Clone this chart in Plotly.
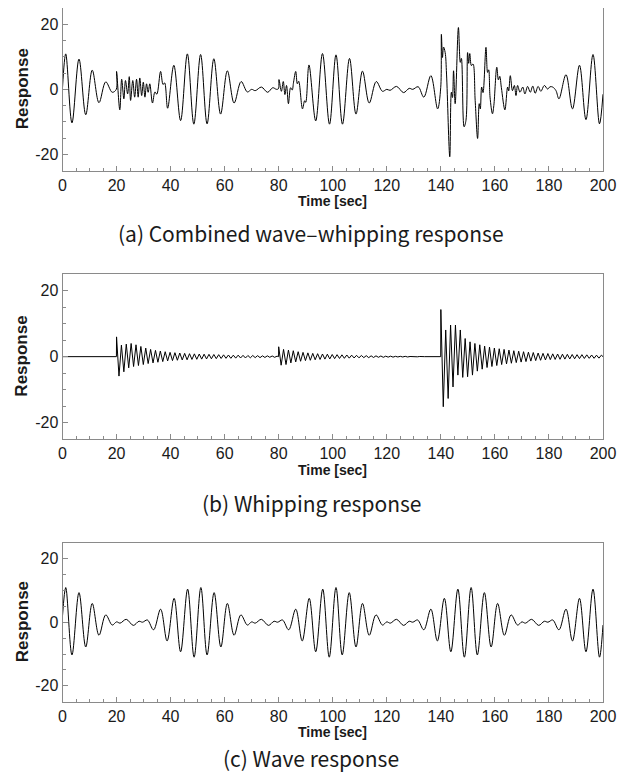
import plotly.graph_objects as go

W, H = 626, 782          # browser window
OFF = 8                  # default page margin of the html body
FW, FH = W - OFF, H - OFF

# ---------------- data ----------------
# (c) Wave response: extrema (time [s], value)
wave_t = [0.0, 1.2, 3.5, 6.1, 8.6, 11.0, 13.5, 16.0, 18.4, 20.0, 21.3, 23.6, 26.2, 28.3, 29.6, 31.4, 33.7, 36.3, 38.7, 41.3, 43.7, 46.3, 48.7,
          51.2, 53.5, 56.1, 58.6, 61.0, 63.5, 66.0, 68.4, 70.0, 71.3, 73.6, 76.2, 78.3, 79.6, 81.4, 83.7, 86.3, 88.7, 91.3, 93.7, 96.3, 98.7,
          101.2, 103.5, 106.1, 108.6, 111.0, 113.5, 116.0, 118.4, 120.0, 121.3, 123.6, 126.2, 128.3, 129.6, 131.4, 133.7, 136.3, 138.7, 141.3, 143.7, 146.3, 148.7,
          151.2, 153.5, 156.1, 158.6, 161.0, 163.5, 166.0, 168.4, 170.0, 171.3, 173.6, 176.2, 178.3, 179.6, 181.4, 183.7, 186.3, 188.7, 191.3, 193.7, 196.3, 198.7,
          200.0]
wave_v = [2.0, 10.9, -10.3, 9.3, -7.8, 5.9, -4.1, 2.3, -0.9, 0.1, -0.3, 0.9, -1.0, 0.3, 0.0, 0.7, -2.4, 4.1, -5.9, 7.5, -9.3, 10.4, -11.0,
          10.9, -10.3, 9.3, -7.8, 5.9, -4.1, 2.3, -0.9, 0.1, -0.3, 0.9, -1.0, 0.3, 0.0, 0.7, -2.4, 4.1, -5.9, 7.5, -9.3, 10.4, -11.0,
          10.9, -10.3, 9.3, -7.8, 5.9, -4.1, 2.3, -0.9, 0.1, -0.3, 0.9, -1.0, 0.3, 0.0, 0.7, -2.4, 4.1, -5.9, 7.5, -9.3, 10.4, -11.0,
          10.9, -10.3, 9.3, -7.8, 5.9, -4.1, 2.3, -0.9, 0.1, -0.3, 0.9, -1.0, 0.3, 0.0, 0.7, -2.4, 4.1, -5.9, 7.5, -9.3, 10.4, -11.0,
          -0.9]

# (b) Whipping response: slam times, half period of the whipping oscillation, successive extrema
whip_start = [20.0, 80.0, 140.0]
whip_half_period = 0.9
whip_burst1 = [6.0, -5.9, 3.5, -4.6, 3.8, -3.4, 4.0, -3.0, 3.6, -2.7,
               3.1, -2.4, 2.6, -2.1, 2.2, -1.9, 1.9, -1.7, 1.7, -1.5,
               1.5, -1.3, 1.3, -1.2, 1.2, -1.1, 1.1, -1.0, 1.0, -0.95,
               0.9, -0.85, 0.85, -0.8, 0.8, -0.75, 0.75, -0.7, 0.7, -0.65,
               0.65, -0.6, 0.6, -0.55, 0.55, -0.5, 0.5, -0.5, 0.45, -0.45,
               0.45, -0.4, 0.4, -0.4, 0.35, -0.35, 0.35, -0.3, 0.3, -0.3,
               0.25, -0.25, 0.25, -0.2, 0.2, -0.2, 0.15, -0.15, 0.1, -0.1]
whip_burst2 = [3.0, -2.6, 2.2, -2.4, 2.0, -1.9, 1.8, -1.6, 1.5, -1.4,
               1.3, -1.2, 1.15, -1.1, 1.0, -0.95, 0.9, -0.85, 0.8, -0.75,
               0.75, -0.7, 0.65, -0.6, 0.6, -0.55, 0.55, -0.5, 0.5, -0.45,
               0.45, -0.4, 0.4, -0.35, 0.35, -0.3, 0.3, -0.3, 0.25, -0.25,
               0.25, -0.2, 0.2, -0.2, 0.15, -0.15, 0.15, -0.15, 0.1, -0.1,
               0.1, -0.1, 0.1, -0.1, 0.05, -0.05, 0.05, -0.05, 0.05, -0.05]
whip_burst3 = [14.3, -15.2, 8.1, -12.7, 9.6, -9.2, 9.6, -5.6, 8.1, -6.3,
               5.5, -6.1, 4.5, -5.6, 4.0, -4.4, 3.6, -3.8, 3.2, -3.3,
               2.9, -3.0, 2.6, -2.7, 2.4, -2.4, 2.2, -2.2, 2.0, -2.0,
               1.8, -1.8, 1.65, -1.65, 1.5, -1.5, 1.35, -1.35, 1.25, -1.2,
               1.1, -1.1, 1.0, -1.0, 0.95, -0.9, 0.85, -0.85, 0.8, -0.8,
               0.75, -0.75, 0.7, -0.7, 0.65, -0.65, 0.6, -0.6, 0.6, -0.55,
               0.55, -0.5, 0.5, -0.5, 0.45, -0.45, 0.45]
whip_bursts = [whip_burst1, whip_burst2, whip_burst3]

# (a) Combined wave-whipping response: vertices (time [s], value)
comb_t = [0.0, 1.2, 3.5, 6.1, 8.6, 11.0, 13.5, 16.0, 18.4, 19.9,
          20.0, 21.2, 21.9, 22.7, 23.3, 24.1, 24.7, 25.2, 26.0, 26.7,
          27.4, 28.0, 28.6, 29.3, 29.9, 30.5, 31.1, 31.7, 32.3, 33.3,
          34.2, 34.9, 36.3, 37.2, 37.8, 38.9, 41.2, 43.7, 46.2, 48.6,
          51.1, 53.5, 56.0, 58.5, 61.0, 63.5, 66.1, 68.4, 70.0, 71.3,
          73.6, 75.9, 77.8, 79.2, 79.9, 80.1, 81.0, 81.7, 82.3, 82.9,
          83.6, 84.4, 85.0, 85.5, 86.3, 86.9, 87.4, 88.8, 89.6, 90.0,
          91.2, 93.7, 96.2, 98.8, 101.2, 103.6, 106.2, 108.6, 111.0, 113.5,
          116.1, 118.4, 120.0, 121.2, 123.6, 126.2, 128.3, 129.6, 131.6, 133.7,
          136.3, 138.8, 139.95, 140.2, 140.6, 141.0, 141.6, 142.1, 143.3, 143.9,
          144.3, 144.7, 145.3, 146.5, 147.2, 147.6, 148.6, 149.3, 149.9, 150.3,
          150.7, 151.3, 151.9, 152.7, 153.6, 154.2, 154.6, 155.1, 155.6, 156.7,
          157.3, 157.7, 158.2, 159.1, 159.6, 160.7, 161.3, 161.8, 162.4, 163.7,
          164.7, 165.1, 165.7, 166.5, 167.2, 167.8, 168.4, 169.3, 170.3, 171.1,
          172.1, 173.1, 174.0, 174.9, 176.0, 177.0, 178.3, 179.5, 180.4, 181.4,
          182.6, 183.7, 186.3, 188.7, 191.3, 193.7, 196.3, 198.7, 200.0]
comb_v = [0.5, 10.9, -10.3, 9.3, -7.8, 5.9, -4.1, 2.3, -0.9, 0.0,
          5.5, -6.3, 3.1, -2.9, 2.7, -1.4, 3.9, -3.4, 2.7, -2.4,
          3.1, -2.4, 3.5, -1.9, 2.2, -2.4, 1.7, -0.9, 1.7, -4.2,
          -0.8, -1.5, 5.5, 1.5, 2.0, -5.8, 7.4, -9.6, 10.9, -10.7,
          10.7, -10.6, 9.4, -7.6, 5.7, -4.2, 2.4, -0.8, 0.0, -0.4,
          0.7, -0.9, 0.5, 0.0, 0.2, 3.0, -0.6, 2.4, -1.6, 1.2,
          -4.4, 0.5, -0.2, 2.2, 5.5, 1.7, 2.5, -6.0, -3.5, -4.0,
          7.5, -9.7, 11.0, -10.7, 10.6, -10.7, 9.5, -7.6, 5.6, -4.2,
          2.4, -0.6, 0.0, -0.3, 0.9, -1.0, 0.3, 0.0, 0.8, -2.4,
          4.2, -6.0, 0.5, 16.9, 9.8, 13.0, 11.3, 4.7, -20.7, -0.9,
          -2.5, 5.7, -4.4, 19.0, 8.3, 9.5, -11.5, -9.5, 11.3, 8.0,
          11.0, 7.3, 7.8, -3.4, -15.1, -4.4, -6.0, 0.7, -1.0, 12.9,
          5.2, 6.0, -2.4, -7.5, -5.0, 6.8, 2.9, 4.0, 0.5, -6.3,
          0.7, -0.5, 4.2, -0.4, 1.2, -1.9, 1.2, -0.9, 0.7, -1.4,
          0.9, -0.9, 1.0, -1.2, 0.9, -0.6, 1.2, 0.1, 0.8, 0.7,
          -0.4, -2.9, 4.5, -6.0, 7.4, -9.3, 10.7, -10.6, -1.5]

x_ticks = [0, 20, 40, 60, 80, 100, 120, 140, 160, 180, 200]
y_ticks = [-20, 0, 20]
captions = ["(a) Combined wave\u2013whipping response", "(b) Whipping response", "(c) Wave response"]
x_title = "Time [sec]"
y_title = "Response"

# ---------------- build the whipping series from its extrema ----------------
wt, wv = [0.0], [0.0]
for i, (s, vals) in enumerate(zip(whip_start, whip_bursts)):
    nxt = whip_start[i + 1] if i + 1 < len(whip_start) else 200.0
    wt.append(s - 0.05)
    wv.append(0.0)
    last = s
    for k, v in enumerate(vals):
        t = s + k * whip_half_period
        if t > nxt - 0.1 or t > 200:
            break
        wt.append(t)
        wv.append(v)
        last = t
    if last + whip_half_period < nxt:
        wt.append(last + whip_half_period)
        wv.append(0.0)
if wt[-1] < 200.0:
    wt.append(200.0)
    wv.append(0.0)

# ---------------- layout helpers (window pixels -> paper) ----------------
def px(xp):
    return (xp - OFF) / FW


def py(yp):
    return min(1.0, max(0.0, 1 - (yp - OFF) / FH))


panels_px = [(8.0, 170.7), (274.3, 439.0), (542.7, 701.7)]
xtitle_y = [201, 469.5, 732]
caption_y = [233, 503, 758]
x_left, x_right = 62.5, 603.0
GREY = "#8a8a8a"
TXT = "#1a1a1a"
ARIAL = "Liberation Sans, Arial, sans-serif"

fig = go.Figure()
series = [(comb_t, comb_v, "spline"), (wt, wv, "linear"), (wave_t, wave_v, "spline")]
for i, (tx, vy, shape) in enumerate(series):
    sfx = "" if i == 0 else str(i + 1)
    line = dict(color="black", width=1, shape=shape)
    if shape == "spline":
        line["smoothing"] = 1.0
    fig.add_trace(go.Scatter(x=tx, y=vy, mode="lines", line=line,
                             xaxis="x" + sfx, yaxis="y" + sfx, showlegend=False,
                             hoverinfo="skip"))

annotations = []
for i, (top, bot) in enumerate(panels_px):
    sfx = "" if i == 0 else str(i + 1)
    fig.layout["xaxis" + sfx] = dict(
        domain=[px(x_left), px(x_right)], anchor="y" + sfx, range=[0, 200],
        tickmode="array", tickvals=x_ticks, ticktext=[str(v) for v in x_ticks],
        ticks="inside", ticklen=5, tickcolor=GREY, tickwidth=1,
        showline=True, linecolor=GREY, linewidth=1, mirror=True,
        showgrid=False, zeroline=False, automargin=False,
        minor=dict(dtick=5, tick0=0, ticks="inside", ticklen=3, tickcolor=GREY, showgrid=False),
        tickfont=dict(family=ARIAL, size=16, color=TXT),
        fixedrange=True)
    fig.layout["yaxis" + sfx] = dict(
        domain=[py(bot), py(top)], anchor="x" + sfx, range=[-25, 25],
        tickmode="array", tickvals=y_ticks, ticktext=[str(v) for v in y_ticks],
        ticks="inside", ticklen=5, tickcolor=GREY, tickwidth=1,
        showline=True, linecolor=GREY, linewidth=1, mirror=True,
        showgrid=False, zeroline=False, automargin=False,
        minor=dict(dtick=5, tick0=0, ticks="inside", ticklen=3, tickcolor=GREY, showgrid=False),
        tickfont=dict(family=ARIAL, size=16, color=TXT),
        fixedrange=True)
    annotations.append(dict(text="<b>%s</b>" % x_title, x=px((x_left + x_right) / 2),
                            y=py(xtitle_y[i]), xref="paper", yref="paper",
                            xanchor="center", yanchor="middle", showarrow=False,
                            font=dict(family=ARIAL, size=14, color=TXT)))
    annotations.append(dict(text="<b>%s</b>" % y_title, x=px(22), y=py((top + bot) / 2),
                            xref="paper", yref="paper", textangle=-90,
                            xanchor="center", yanchor="middle", showarrow=False,
                            font=dict(family=ARIAL, size=17, color=TXT)))
    annotations.append(dict(text=captions[i], x=px(311), y=py(caption_y[i]),
                            xref="paper", yref="paper", xanchor="center", yanchor="middle",
                            showarrow=False,
                            font=dict(family="Noto Sans CJK KR, Noto Sans, sans-serif", size=21, color=TXT)))

fig.update_layout(width=FW, height=FH, margin=dict(l=0, r=0, t=0, b=0),
                  paper_bgcolor="white", plot_bgcolor="white",
                  annotations=annotations, showlegend=False)

fig.write_html("out.html")
